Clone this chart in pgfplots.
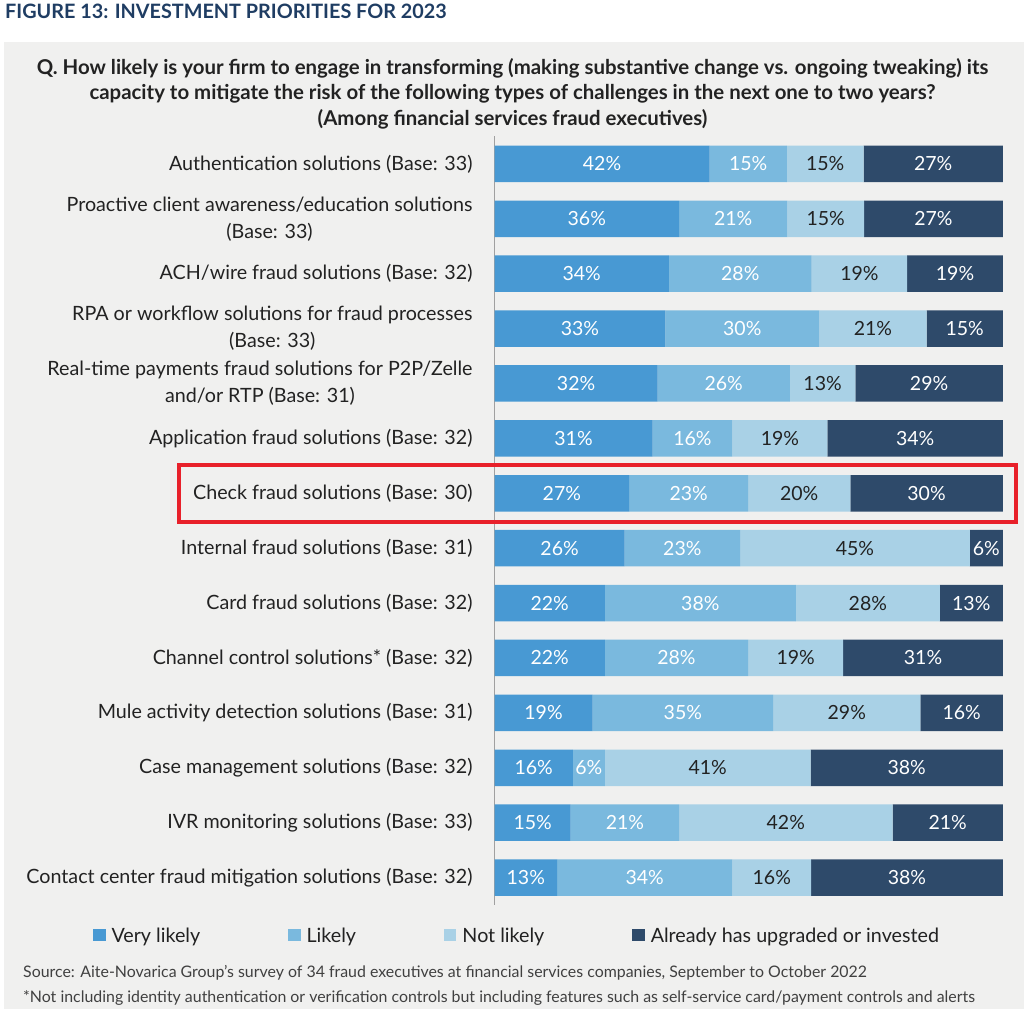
\documentclass[border=0pt]{standalone}
\usepackage{pgfplots}
\pgfplotsset{compat=1.18}
\usepackage{pgfplotstable}
\usepackage{fontspec}
\setmainfont{Lato}
\definecolor{cvl}{HTML}{4899D3}
\definecolor{cl}{HTML}{7AB9DE}
\definecolor{cnl}{HTML}{A9D1E6}
\definecolor{cal}{HTML}{2E4A6A}
\definecolor{panel}{HTML}{F0F0EF}
\definecolor{titleblue}{HTML}{1F3D63}
\definecolor{axisgray}{HTML}{A0A0A0}
\definecolor{redbox}{HTML}{E8202A}
\definecolor{txt}{HTML}{222222}
\pgfplotstableread{
y a b c d la lb lc ld
0 42.3 15.2 15.1 27.4 42 15 15 27
1 36.3 21.3 15.1 27.3 36 21 15 27
2 34.3 28.1 18.8 18.8 34 28 19 19
3 33.6 30.3 21.1 15.0 33 30 21 15
4 32.1 26.0 12.9 29.0 32 26 13 29
5 31.1 15.7 18.7 34.5 31 16 19 34
6 26.5 23.4 20.1 30.0 27 23 20 30
7 25.6 22.7 45.2 6.5 26 23 45 6
8 21.7 37.6 28.3 12.4 22 38 28 13
9 21.7 28.2 18.7 31.4 22 28 19 31
10 19.3 35.5 29.0 16.2 19 35 29 16
11 15.4 6.3 40.5 37.8 16 6 41 38
12 15.0 21.3 42.0 21.7 15 21 42 21
13 12.3 34.5 15.5 37.7 13 34 16 38
}\data
\newcommand{\lbl}{\fontsize{19.7}{27}\selectfont}
\begin{document}
\begin{tikzpicture}[x=1pt,y=1pt]
\fill[white] (0,0) rectangle (1024,-1015);
\fill[panel] (4,-42) rectangle (1024,-1009);
\node[anchor=base west, inner sep=0pt, text=titleblue, font=\bfseries\fontsize{19.8}{23}\selectfont] at (5,-18.5) {FIGURE 13: INVESTMENT PRIORITIES FOR 2023};
\node[anchor=base, inner sep=0pt, text=txt, font=\bfseries\fontsize{20.4}{24}\selectfont] at (512.5,-74) {Q. How likely is your firm to engage in transforming (making substantive change vs. ongoing tweaking) its};
\node[anchor=base, inner sep=0pt, text=txt, font=\bfseries\fontsize{20.4}{24}\selectfont] at (512.5,-99.5) {capacity to mitigate the risk of the following types of challenges in the next one to two years?};
\node[anchor=base, inner sep=0pt, text=txt, font=\bfseries\fontsize{20.4}{24}\selectfont] at (512.5,-125.5) {(Among financial services fraud executives)};
\node[anchor=base west, inner sep=0pt, text=black!75, font=\fontsize{15.9}{18}\selectfont] at (23,-977.5) {Source: Aite-Novarica Group’s survey of 34 fraud executives at financial services companies, September to October 2022};
\node[anchor=base west, inner sep=0pt, text=black!75, font=\fontsize{15.9}{18}\selectfont] at (23,-1002) {*Not including identity authentication or verification controls but including features such as self-service card/payment controls and alerts};
\begin{axis}[
  at={(494.5pt,-905pt)}, anchor=south west,
  scale only axis, width=508.3pt, height=768.6pt,
  xmin=0, xmax=100, ymin=-0.5, ymax=13.5, y dir=reverse,
  hide x axis, axis y line*=left,
  axis line style={draw=axisgray, line width=1.5pt, -},
  xbar stacked, bar width=0.665,
  ytick={0,...,13},
  yticklabels={
    {Authentication solutions (Base: 33)},
    {Proactive client awareness/education solutions\\(Base: 33)},
    {ACH/wire fraud solutions (Base: 32)},
    {RPA or workflow solutions for fraud processes\\(Base: 33)},
    {Real-time payments fraud solutions for P2P/Zelle\\and/or RTP (Base: 31)},
    {Application fraud solutions (Base: 32)},
    {Check fraud solutions (Base: 30)},
    {Internal fraud solutions (Base: 31)},
    {Card fraud solutions (Base: 32)},
    {Channel control solutions* (Base: 32)},
    {Mule activity detection solutions (Base: 31)},
    {Case management solutions (Base: 32)},
    {IVR monitoring solutions (Base: 33)},
    {Contact center fraud mitigation solutions (Base: 32)}},
  major tick length=0pt,
  yticklabel style={align=center, anchor=east, inner sep=0pt, xshift=-21.8pt, text=txt, font=\lbl},
  point meta=explicit symbolic,
  nodes near coords={\pgfplotspointmeta\%},
  every node near coord/.append style={anchor=center, inner sep=0pt, font=\fontsize{19.5}{22}\selectfont},
  sq/.style={legend image code/.code={\fill[##1] (0pt,-5.5pt) rectangle (12.4pt,6.5pt);}},
  legend columns=4,
  legend style={at={(axis cs:-79,14.06)}, anchor=west, draw=none, fill=none, inner sep=0pt, font=\lbl, text=txt,
    nodes={inner sep=0pt},
    /tikz/every even column/.append style={column sep=88pt},
    /tikz/every odd column/.append style={column sep=6pt}},
]
\addplot[fill=cvl, draw=none, sq, every node near coord/.append style={text=white}] table[x=a, y=y, meta=la] {\data};
\addplot[fill=cl, draw=none, sq, every node near coord/.append style={text=white}] table[x=b, y=y, meta=lb] {\data};
\addplot[fill=cnl, draw=none, sq, every node near coord/.append style={text=txt}] table[x=c, y=y, meta=lc] {\data};
\addplot[fill=cal, draw=none, sq, every node near coord/.append style={text=white}] table[x=d, y=y, meta=ld] {\data};
\legend{Very likely, Likely, Not likely, Already has upgraded or invested}
\end{axis}
\draw[redbox, line width=4pt] (178.5,-465.3) rectangle (1016.4,-521.7);
\end{tikzpicture}
\end{document}
